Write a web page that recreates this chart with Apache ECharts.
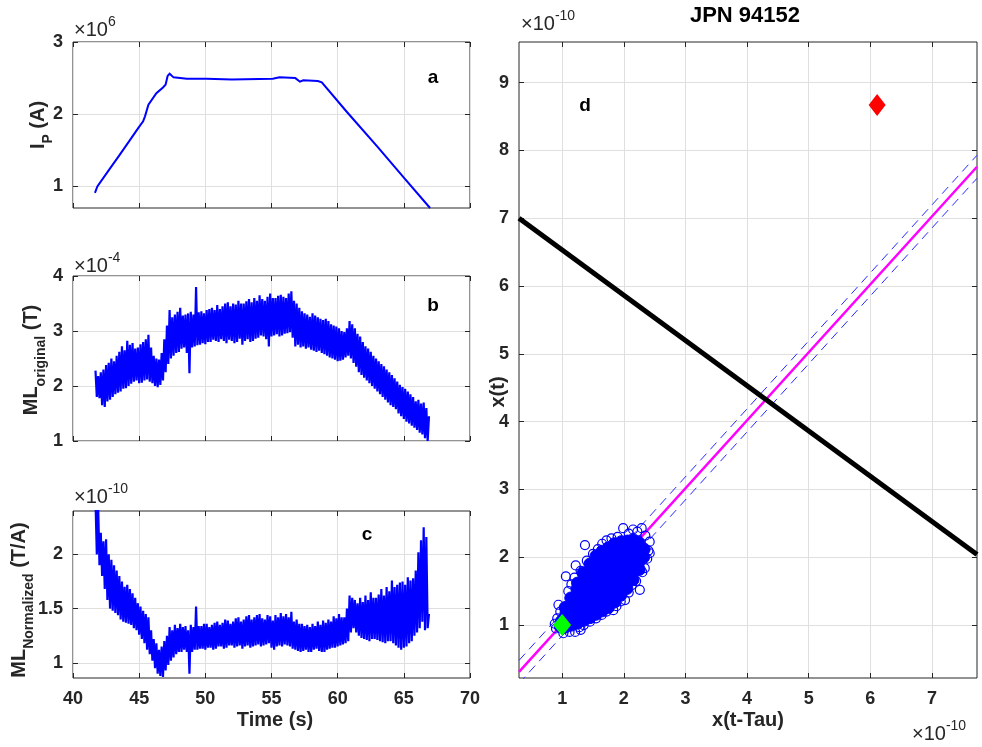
<!DOCTYPE html>
<html><head><meta charset="utf-8">
<script src="https://cdn.jsdelivr.net/npm/echarts@6/dist/echarts.min.js"></script>
<style>html,body{margin:0;padding:0;background:#fff}#c{width:982px;height:747px}</style>
</head><body><div id="c"></div>
<script>
// ---------- tick values ----------
const timeTicks = [40, 45, 50, 55, 60, 65, 70];
const ipTicks = [1, 2, 3];
const origTicks = [1, 2, 3, 4];
const normTicks = [1, 1.5, 2];
const dXTicks = [1, 2, 3, 4, 5, 6, 7];
const dYTicks = [1, 2, 3, 4, 5, 6, 7, 8, 9];

// ---------- panel a: plasma current (x1e6 A) ----------
const ipTime = [41.66,41.84,42.8,43.5,44.3,44.94,45.3,45.44,45.7,46.3,46.8,47.0,47.15,47.3,47.6,48.6,50.1,52.0,55.1,55.6,56.8,57.15,57.4,58.5,58.8,60.7,63.0,65.0,66.98];
const ipVal  = [0.91,1.0,1.25,1.43,1.64,1.81,1.9,1.97,2.13,2.29,2.37,2.41,2.53,2.56,2.51,2.49,2.49,2.48,2.49,2.51,2.50,2.45,2.47,2.46,2.44,2.03,1.55,1.12,0.70];

// ---------- panels b, c: noisy signals (shared time base, s) ----------
const mlTime = [
41.7,41.8,41.9,42.0,42.1,42.2,42.3,42.4,42.5,42.6,42.7,42.8,42.9,43.0,43.1,43.2,43.3,43.4,43.5,43.6,
43.7,43.8,43.9,44.0,44.1,44.2,44.3,44.4,44.5,44.6,44.7,44.8,44.9,45.0,45.1,45.2,45.3,45.4,45.5,45.6,
45.7,45.8,45.9,46.0,46.1,46.2,46.3,46.4,46.5,46.6,46.7,46.8,46.9,47.0,47.1,47.2,47.3,47.4,47.5,47.6,
47.7,47.8,47.9,48.0,48.1,48.2,48.3,48.4,48.5,48.6,48.7,48.8,48.9,49.0,49.1,49.2,49.3,49.4,49.5,49.6,
49.7,49.8,49.9,50.0,50.1,50.2,50.3,50.4,50.5,50.6,50.7,50.8,50.9,51.0,51.1,51.2,51.3,51.4,51.5,51.6,
51.7,51.8,51.9,52.0,52.1,52.2,52.3,52.4,52.5,52.6,52.7,52.8,52.9,53.0,53.1,53.2,53.3,53.4,53.5,53.6,
53.7,53.8,53.9,54.0,54.1,54.2,54.3,54.4,54.5,54.6,54.7,54.8,54.9,55.0,55.1,55.2,55.3,55.4,55.5,55.6,
55.7,55.8,55.9,56.0,56.1,56.2,56.3,56.4,56.5,56.6,56.7,56.8,56.9,57.0,57.1,57.2,57.3,57.4,57.5,57.6,
57.7,57.8,57.9,58.0,58.1,58.2,58.3,58.4,58.5,58.6,58.7,58.8,58.9,59.0,59.1,59.2,59.3,59.4,59.5,59.6,
59.7,59.8,59.9,60.0,60.1,60.2,60.3,60.4,60.5,60.6,60.7,60.8,60.9,61.0,61.1,61.2,61.3,61.4,61.5,61.6,
61.7,61.8,61.9,62.0,62.1,62.2,62.3,62.4,62.5,62.6,62.7,62.8,62.9,63.0,63.1,63.2,63.3,63.4,63.5,63.6,
63.7,63.8,63.9,64.0,64.1,64.2,64.3,64.4,64.5,64.6,64.7,64.8,64.9,65.0,65.1,65.2,65.3,65.4,65.5,65.6,
65.7,65.8,65.9,66.0,66.1,66.2,66.3,66.4,66.5,66.6,66.7,66.8,66.9];
// ML original (x1e-4 T)
const mlOrig = [
2.28,1.8,2.18,1.78,2.25,1.65,2.3,1.62,2.38,1.72,2.42,1.75,2.5,1.8,2.45,1.85,2.55,1.88,2.62,1.9,
2.72,1.95,2.65,1.96,2.82,2.0,2.75,2.04,2.78,2.08,2.68,2.1,2.7,2.05,2.76,2.06,2.8,2.1,2.85,2.12,
2.93,2.08,2.7,2.05,2.55,2.0,2.5,1.98,2.48,2.02,2.6,2.1,2.85,2.25,3.1,2.4,3.38,2.5,3.25,2.55,
3.3,2.6,3.35,2.62,3.42,2.68,3.28,2.7,3.3,2.6,3.32,2.23,3.35,2.7,3.3,2.72,3.8,2.74,3.34,2.75,
3.36,2.78,3.32,2.76,3.38,2.8,3.4,2.8,3.42,2.84,3.38,2.82,3.47,2.8,3.4,2.85,3.45,2.82,3.5,2.78,
3.52,2.84,3.45,2.82,3.5,2.78,3.48,2.8,3.55,2.86,3.5,2.75,3.5,2.82,3.54,2.85,3.58,2.8,3.52,2.82,
3.6,2.86,3.55,2.88,3.65,2.92,3.58,2.9,3.55,2.85,3.62,2.72,3.68,2.9,3.6,2.92,3.6,2.94,3.64,2.9,
3.66,2.92,3.62,2.95,3.6,2.96,3.68,2.98,3.72,2.88,3.55,2.72,3.5,2.75,3.42,2.7,3.36,2.72,3.32,2.68,
3.3,2.7,3.26,2.66,3.32,2.64,3.28,2.62,3.25,2.64,3.22,2.6,3.2,2.58,3.22,2.55,3.18,2.52,3.12,2.5,
3.1,2.48,3.08,2.45,3.05,2.46,3.0,2.48,2.98,2.52,3.05,2.55,3.18,2.5,3.12,2.42,3.05,2.35,2.95,2.25,
2.9,2.2,2.8,2.15,2.72,2.1,2.68,2.05,2.62,2.0,2.55,1.95,2.5,1.9,2.45,1.85,2.4,1.8,2.36,1.75,
2.3,1.7,2.25,1.65,2.2,1.62,2.14,1.58,2.08,1.5,2.02,1.45,1.98,1.4,1.95,1.35,1.9,1.32,1.85,1.28,
1.8,1.24,1.72,1.2,1.75,1.15,1.68,1.12,1.7,1.05,1.6,1.0,1.45];
// ML normalized (x1e-10 T/A)
const mlNorm = [
2.5,2.0,2.45,1.9,2.2,1.8,2.12,1.68,2.14,1.58,2.0,1.5,1.95,1.48,1.9,1.46,1.85,1.44,1.8,1.4,
1.75,1.38,1.7,1.37,1.72,1.36,1.68,1.35,1.64,1.32,1.6,1.3,1.55,1.26,1.52,1.22,1.48,1.18,1.45,1.12,
1.42,1.08,1.3,1.02,1.22,0.95,1.18,0.9,1.12,0.88,1.15,0.87,1.2,0.93,1.25,0.98,1.33,1.02,1.3,1.05,
1.35,1.08,1.32,1.1,1.36,1.1,1.33,1.12,1.34,1.1,1.3,0.9,1.35,1.1,1.33,1.12,1.52,1.12,1.34,1.13,
1.34,1.13,1.36,1.12,1.36,1.14,1.33,1.14,1.35,1.12,1.37,1.13,1.38,1.15,1.35,1.15,1.37,1.13,1.4,1.14,
1.39,1.16,1.36,1.16,1.38,1.14,1.41,1.15,1.42,1.16,1.38,1.13,1.4,1.15,1.43,1.16,1.44,1.14,1.4,1.15,
1.42,1.16,1.44,1.17,1.45,1.15,1.41,1.16,1.4,1.17,1.44,1.18,1.43,1.14,1.39,1.12,1.44,1.15,1.42,1.16,
1.46,1.15,1.43,1.17,1.45,1.16,1.42,1.15,1.47,1.13,1.38,1.12,1.4,1.11,1.36,1.1,1.36,1.11,1.34,1.12,
1.35,1.1,1.33,1.1,1.36,1.12,1.34,1.13,1.38,1.11,1.35,1.1,1.39,1.1,1.37,1.12,1.4,1.13,1.38,1.14,
1.43,1.14,1.41,1.15,1.45,1.16,1.42,1.17,1.42,1.18,1.5,1.2,1.62,1.28,1.6,1.32,1.58,1.28,1.55,1.25,
1.6,1.23,1.56,1.22,1.62,1.21,1.58,1.2,1.65,1.22,1.6,1.22,1.6,1.21,1.63,1.2,1.68,1.19,1.62,1.18,
1.7,1.2,1.66,1.2,1.76,1.18,1.7,1.16,1.72,1.14,1.74,1.12,1.75,1.14,1.72,1.15,1.79,1.18,1.76,1.2,
1.78,1.25,1.85,1.28,2.02,1.32,2.13,1.38,2.25,1.3,2.16,1.32,1.45];

// ---------- panel d: delay embedding (x1e-10) ----------
const cloudCore = [
[0.97,0.98],[0.99,1.06],
[1.05,0.97],[1.04,1.07],[1.06,1.17],[1.05,1.26],
[1.15,1.0],[1.14,1.1],[1.16,1.2],[1.15,1.3],[1.14,1.4],
[1.25,1.03],[1.26,1.13],[1.24,1.23],[1.25,1.33],[1.26,1.43],[1.24,1.53],[1.25,1.62],
[1.35,1.07],[1.34,1.18],[1.36,1.28],[1.35,1.38],[1.34,1.48],[1.36,1.58],[1.35,1.68],[1.34,1.77],
[1.45,1.11],[1.46,1.22],[1.44,1.32],[1.45,1.42],[1.46,1.52],[1.44,1.62],[1.45,1.72],[1.46,1.82],[1.45,1.9],
[1.55,1.16],[1.54,1.27],[1.56,1.37],[1.55,1.47],[1.54,1.57],[1.56,1.67],[1.55,1.77],[1.54,1.87],[1.56,1.96],[1.55,2.02],
[1.65,1.21],[1.66,1.32],[1.64,1.42],[1.65,1.52],[1.66,1.62],[1.64,1.72],[1.65,1.82],[1.66,1.92],[1.64,2.02],[1.65,2.09],
[1.75,1.26],[1.74,1.37],[1.76,1.47],[1.75,1.57],[1.74,1.67],[1.76,1.77],[1.75,1.87],[1.74,1.97],[1.76,2.07],[1.75,2.14],
[1.85,1.34],[1.86,1.45],[1.84,1.55],[1.85,1.65],[1.86,1.75],[1.84,1.85],[1.85,1.95],[1.86,2.05],[1.84,2.14],[1.85,2.2],
[1.95,1.44],[1.94,1.55],[1.96,1.65],[1.95,1.75],[1.94,1.85],[1.96,1.95],[1.95,2.05],[1.94,2.15],[1.96,2.23],
[2.05,1.54],[2.06,1.65],[2.04,1.75],[2.05,1.85],[2.06,1.95],[2.04,2.05],[2.05,2.15],[2.06,2.24],
[2.15,1.67],[2.14,1.78],[2.16,1.88],[2.15,1.98],[2.14,2.08],[2.16,2.18],[2.15,2.26],
[2.25,1.82],[2.24,1.92],[2.26,2.02],[2.25,2.12],[2.24,2.22],
[2.32,2.0],[2.33,2.12]];
const cloudEdge = [
[0.9,0.95],[0.88,1.02],[0.92,1.1],[0.97,1.2],[0.94,1.3],[1.06,1.72],[1.1,1.5],[1.15,1.6],
[1.2,1.7],[1.22,1.88],[1.3,1.8],[1.37,2.18],[1.4,1.95],[1.5,2.05],[1.58,2.12],[1.65,2.2],
[1.72,2.25],[1.8,2.28],[1.9,2.3],[1.99,2.43],[2.08,2.35],[2.15,2.41],[2.22,2.38],[2.29,2.43],
[2.35,2.32],[2.42,2.23],[2.4,2.1],[2.42,2.06],[2.38,1.98],[2.34,1.84],[2.3,1.78],[2.26,1.52],
[2.2,1.65],[2.13,1.59],[2.08,1.48],[2.02,1.37],[1.95,1.35],[1.88,1.28],[1.83,1.22],[1.72,1.2],
[1.64,1.15],[1.55,1.1],[1.45,1.05],[1.35,1.0],[1.28,0.97],[1.21,0.9],[1.12,0.9],[1.02,0.88],[1.3,0.93]];
const fitLine   = [[0.3, 0.31], [7.73, 7.76]];
const fitUpper  = [[0.3, 0.48], [7.73, 7.93]];
const fitLower  = [[0.3, 0.14], [7.73, 7.59]];
const crossLine = [[0.3, 7.0], [7.73, 2.04]];
const startPoint = [[1.0, 1.0]];
const targetPoint = [[6.11, 8.67]];

// ---------- build ----------
const FONT = '"Liberation Sans", Arial, sans-serif';
const TXT = '#262626';
const zip = (a, b) => a.map((v, i) => [v, b[i]]);

const grids = [
  {left: 73, top: 42, width: 397, height: 166},
  {left: 73, top: 276, width: 397, height: 165},
  {left: 73, top: 511, width: 397, height: 167},
  {left: 519, top: 42, width: 458, height: 636}
].map(g => Object.assign(g, {show: true, borderColor: '#262626', borderWidth: 1, backgroundColor: 'rgba(0,0,0,0)', containLabel: false}));

function axis(gi, min, max, ticks, pos, labels, grid) {
  return {
    type: 'value', gridIndex: gi, min: min, max: max, position: pos,
    axisLine: {show: false},
    axisTick: {show: true, inside: true, length: 5, customValues: ticks, lineStyle: {color: '#262626', width: 1}},
    axisLabel: {show: labels, customValues: ticks, margin: (pos === 'bottom' ? 12 : 10),
      fontFamily: FONT, fontWeight: 'bold', fontSize: 18, color: TXT},
    splitLine: {show: grid, lineStyle: {color: '#dfdfdf', width: 1}}
  };
}
const xAxes = [], yAxes = [];
const xr = [[40, 70, timeTicks, false], [40, 70, timeTicks, false], [40, 70, timeTicks, true], [0.3, 7.73, dXTicks, true]];
const yr = [[0.7, 3, ipTicks], [1, 4, origTicks], [0.86, 2.4, normTicks], [0.22, 9.6, dYTicks]];
for (let i = 0; i < 4; i++) {
  xAxes.push(axis(i, xr[i][0], xr[i][1], xr[i][2], 'bottom', xr[i][3], true));
  xAxes.push(axis(i, xr[i][0], xr[i][1], xr[i][2], 'top', false, false));
  yAxes.push(axis(i, yr[i][0], yr[i][1], yr[i][2], 'left', true, true));
  yAxes.push(axis(i, yr[i][0], yr[i][1], yr[i][2], 'right', false, false));
}

function line(gi, data, color, width, type, z) {
  return {type: 'line', xAxisIndex: gi * 2, yAxisIndex: gi * 2, data: data, showSymbol: false, symbol: 'none',
    clip: true, silent: true, animation: false, z: z || 2, sampling: null,
    lineStyle: {color: color, width: width, type: type || 'solid', join: 'miter'}};
}
function scat(data, size, symbol, fill, border, bw, z) {
  return {type: 'scatter', xAxisIndex: 6, yAxisIndex: 6, data: data, symbol: symbol, symbolSize: size,
    silent: true, animation: false, clip: true, z: z,
    itemStyle: {color: fill, borderColor: border, borderWidth: bw, opacity: 1}};
}

const series = [
  line(0, zip(ipTime, ipVal), '#0000ff', 2),
  line(1, zip(mlTime, mlOrig), '#0000ff', 2.2),
  line(2, zip(mlTime, mlNorm), '#0000ff', 2.2),
  line(3, fitLine, '#ff00ff', 2.5),
  line(3, fitUpper, '#2a2aff', 1, [9, 6]),
  line(3, fitLower, '#2a2aff', 1, [9, 6]),
  line(3, crossLine, '#000000', 5),
  scat(cloudCore, 12, 'circle', '#0000ff', '#0000ff', 1, 5),
  scat(cloudEdge, 9, 'circle', 'rgba(0,0,0,0)', '#0000ff', 1.2, 6),
  scat(startPoint, [18, 22], 'diamond', '#00ff00', '#00ff00', 0, 7),
  scat(targetPoint, [17, 22], 'diamond', '#ff0000', '#ff0000', 0, 7)
];

function t(x, y, text, size, weight, color, align, valign, extra) {
  return Object.assign({type: 'text', x: x, y: y, silent: true, z: 100,
    style: {text: text, fontSize: size, fontWeight: weight, fontFamily: FONT, fill: color, align: align || 'center', verticalAlign: valign || 'middle'}}, extra || {});
}
function richName(x, y, parts) {
  return {type: 'text', x: x, y: y, rotation: Math.PI / 2, silent: true, z: 100,
    style: {text: parts, fontFamily: FONT, fill: TXT, align: 'center', verticalAlign: 'top',
      rich: {
        m: {fontSize: 20, fontWeight: 'bold', fontFamily: FONT, fill: TXT, color: TXT, verticalAlign: 'top'},
        s: {fontSize: 14, fontWeight: 'bold', fontFamily: FONT, fill: TXT, color: TXT, verticalAlign: 'top', padding: [13, 0, 0, 0]}
      }}};
}
function expo(x, y, pw) {
  return {type: 'text', x: x, y: y, silent: true, z: 100,
    style: {text: '{b|\u00d710}{p|' + pw + '}', fontFamily: FONT, fill: TXT, align: 'left', verticalAlign: 'top',
      rich: {
        b: {fontSize: 20, fontFamily: FONT, fill: TXT, color: TXT, verticalAlign: 'top', padding: [5, 0, 0, 0]},
        p: {fontSize: 14, fontFamily: FONT, fill: TXT, color: TXT, verticalAlign: 'top'}
      }}};
}

const graphic = [
  t(745, 16, 'JPN 94152', 22, 'bold', '#000'),
  t(433, 78, 'a', 19, 'bold', '#000'),
  t(433, 306, 'b', 19, 'bold', '#000'),
  t(367, 535, 'c', 19, 'bold', '#000'),
  t(585, 106, 'd', 19, 'bold', '#000'),
  t(275, 720, 'Time (s)', 20, 'bold', TXT),
  t(748, 720, 'x(t-Tau)', 20, 'bold', TXT),
  t(498, 392, 'x(t)', 20, 'bold', TXT, 'center', 'middle', {rotation: Math.PI / 2}),
  richName(28, 125, '{m|I}{s|P}{m| (A)}'),
  richName(21, 360, '{m|ML}{s|original}{m| (T)}'),
  richName(9, 600, '{m|ML}{s|Normalized}{m| (T/A)}'),
  expo(74, 15, '6'),
  expo(74, 251, '-4'),
  expo(74, 482, '-10'),
  expo(521, 9, '-10'),
  expo(912, 719, '-10')
];

const chart = echarts.init(document.getElementById('c'), null, {renderer: 'canvas'});
chart.setOption({
  animation: false,
  backgroundColor: '#ffffff',
  grid: grids,
  xAxis: xAxes,
  yAxis: yAxes,
  series: series,
  graphic: graphic
});
</script>
</body></html>
